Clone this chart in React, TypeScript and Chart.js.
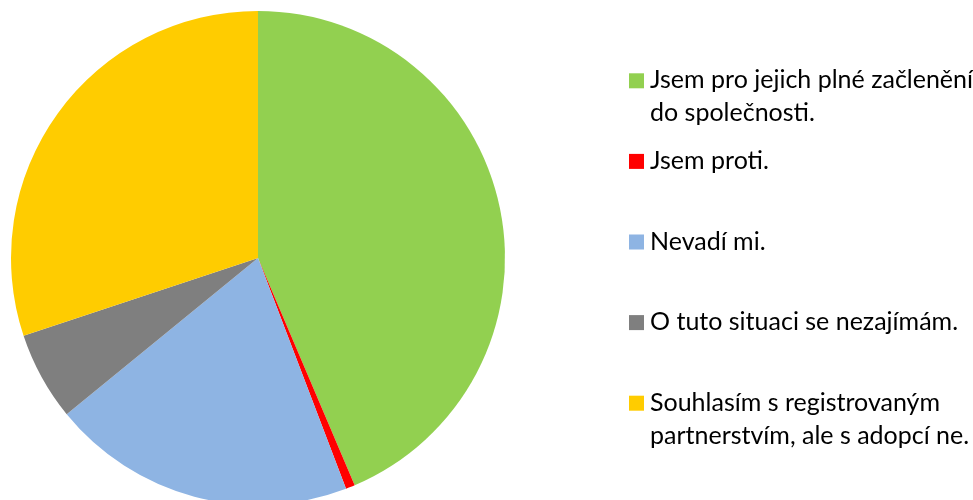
import React, { useEffect, useRef } from "react";
import { Chart, registerables } from "chart.js";

Chart.register(...registerables);

const labels = [
  "Jsem pro jejich plné začlenění\ndo společnosti.",
  "Jsem proti.",
  "Nevadí mi.",
  "O tuto situaci se nezajímám.",
  "Souhlasím s registrovaným\npartnerstvím, ale s adopcí ne.",
];
const values = [43.6, 0.6, 19.9, 5.8, 30.1];
const colors = ["#92D050", "#FF0000", "#8EB4E3", "#7F7F7F", "#FFCC00"];

const FONT_SIZE = 25;
const FONT_FAMILY = "Lato, 'Liberation Sans', sans-serif";

const legendPlugin = {
  id: "customLegend",
  afterDraw(chart: any) {
    const ctx = chart.ctx as CanvasRenderingContext2D;
    const lbls = chart.data.labels as string[];
    const bg = chart.data.datasets[0].backgroundColor as string[];
    ctx.save();
    ctx.font = `${FONT_SIZE}px ${FONT_FAMILY}`;
    ctx.textBaseline = "alphabetic";
    ctx.textAlign = "left";
    const top = 80.8;
    const step = 80.6;
    lbls.forEach((lab, i) => {
      const cy = top + i * step;
      ctx.fillStyle = bg[i];
      ctx.fillRect(629, cy - 7.5, 15, 15);
      ctx.fillStyle = "#000000";
      lab.split("\n").forEach((ln, j) => {
        ctx.fillText(ln, 650, cy + 7.5 + j * 33);
      });
    });
    ctx.restore();
  },
};

export default function App() {
  const ref = useRef<HTMLCanvasElement | null>(null);
  useEffect(() => {
    if (!ref.current) return;
    const chart = new Chart(ref.current, {
      type: "pie",
      data: {
        labels,
        datasets: [
          {
            data: values,
            backgroundColor: colors,
            borderWidth: 0,
          },
        ],
      },
      options: {
        responsive: false,
        animation: false,
        radius: 247,
        layout: { padding: { left: 11, right: 468, top: 16, bottom: 0 } },
        plugins: {
          legend: { display: false },
          tooltip: { enabled: false },
        },
      } as any,
      plugins: [legendPlugin],
    });
    return () => chart.destroy();
  }, []);
  return (
    <div style={{ position: "fixed", left: 0, top: 0, width: 973, height: 500, background: "#fff" }}>
      <canvas ref={ref} width={973} height={500} style={{ width: 973, height: 500, display: "block" }} />
    </div>
  );
}
